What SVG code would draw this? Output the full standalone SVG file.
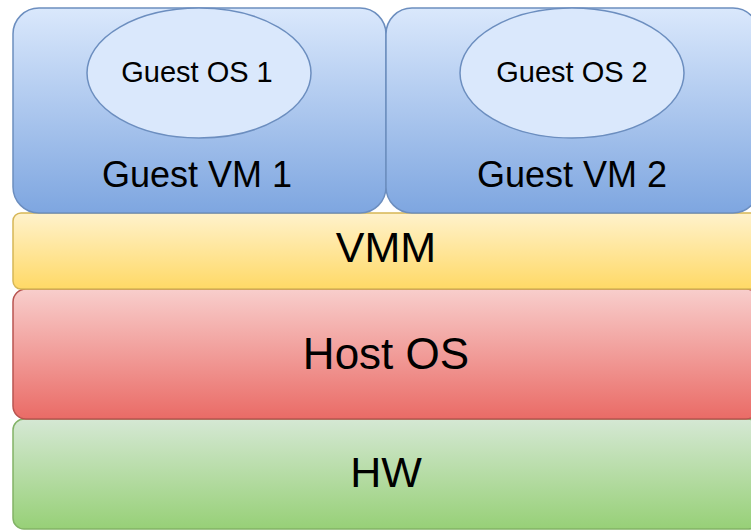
<svg xmlns="http://www.w3.org/2000/svg" width="751" height="531" viewBox="0 0 751 531">
<defs>
<linearGradient id="gBlue" x1="0" y1="0" x2="0" y2="1"><stop offset="0" stop-color="#dae8fc"/><stop offset="1" stop-color="#7ea6e0"/></linearGradient>
<linearGradient id="gYellow" x1="0" y1="0" x2="0" y2="1"><stop offset="0" stop-color="#fff2cc"/><stop offset="1" stop-color="#ffd966"/></linearGradient>
<linearGradient id="gRed" x1="0" y1="0" x2="0" y2="1"><stop offset="0" stop-color="#f8cecc"/><stop offset="1" stop-color="#ea6b66"/></linearGradient>
<linearGradient id="gGreen" x1="0" y1="0" x2="0" y2="1"><stop offset="0" stop-color="#d5e8d4"/><stop offset="1" stop-color="#97d077"/></linearGradient>
</defs>
<style>
text{font-family:"Liberation Sans",Arial,Helvetica,sans-serif;fill:#000;text-anchor:middle}
.vm{fill:url(#gBlue);stroke:#6c8ebf;stroke-width:1.5}
.os{fill:#dae8fc;stroke:#6c8ebf;stroke-width:1.5}
.vmm{fill:url(#gYellow);stroke:#d6b656;stroke-width:1.5}
.host{fill:url(#gRed);stroke:#b85450;stroke-width:1.5}
.hw{fill:url(#gGreen);stroke:#82b366;stroke-width:1.5}
</style>
<g id="hw">
<rect class="hw" x="13" y="419" width="746" height="110" rx="11"/>
<text x="386" y="487" font-size="43">HW</text>
</g>
<g id="host-os">
<rect class="host" x="13" y="289" width="746" height="130" rx="13"/>
<text x="386" y="369" font-size="44">Host OS</text>
</g>
<g id="vmm">
<rect class="vmm" x="13" y="213" width="746" height="76" rx="8"/>
<text x="386" y="262" font-size="43">VMM</text>
</g>
<g id="guest-vm-1">
<rect class="vm" x="13" y="8" width="373" height="205" rx="26"/>
<text x="197" y="187" font-size="36">Guest VM 1</text>
</g>
<g id="guest-vm-2">
<rect class="vm" x="386" y="8" width="373" height="205" rx="26"/>
<text x="572" y="187" font-size="36">Guest VM 2</text>
</g>
<g id="guest-os-1">
<ellipse class="os" cx="199" cy="73" rx="112" ry="65"/>
<text x="197" y="82" font-size="29">Guest OS 1</text>
</g>
<g id="guest-os-2">
<ellipse class="os" cx="572" cy="73" rx="112" ry="65"/>
<text x="572" y="82" font-size="29">Guest OS 2</text>
</g>
<g id="connectors"/>
</svg>
